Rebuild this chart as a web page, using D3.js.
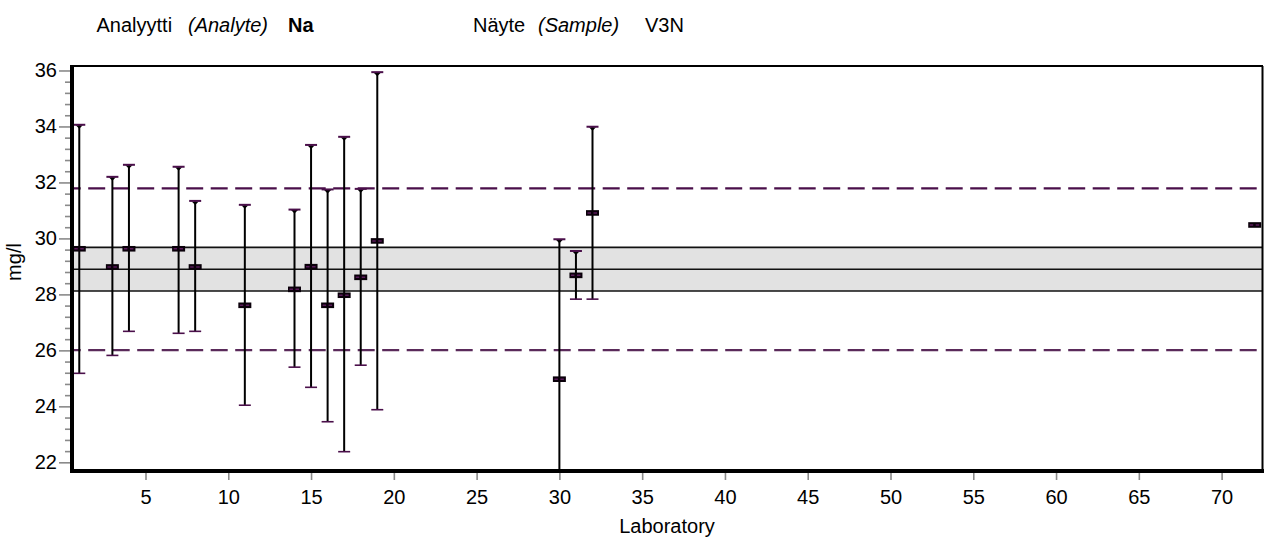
<!DOCTYPE html>
<html>
<head>
<meta charset="utf-8">
<script src="https://cdn.jsdelivr.net/npm/d3@7"></script>
<style>
  html, body { margin: 0; padding: 0; background: #fff; }
  svg { display: block; }
  text { font-family: "Liberation Sans", Arial, sans-serif; fill: #000; }
</style>
</head>
<body>
<svg id="chart" width="1270" height="541"></svg>
<script>
// ---- Data ----
const labs   = [1, 3, 4, 7, 8, 11, 14, 15, 16, 17, 18, 19, 30, 31, 32, 72];
const values = [29.63, 28.98, 29.63, 29.63, 28.98, 27.61, 28.18, 28.99, 27.61, 27.97, 28.61, 29.91, 24.97, 28.68, 30.91, 30.48];
const uppers = [34.06, 32.20, 32.63, 32.56, 31.34, 31.20, 31.03, 33.34, 31.75, 33.63, 31.77, 35.94, 29.97, 29.55, 33.99, null];
const lowers = [25.18, 25.82, 26.68, 26.61, 26.68, 24.04, 25.40, 24.68, 23.45, 22.38, 25.47, 23.88, 20.00, 27.83, 27.83, null];

const assignedValue = 28.9;
const bandLimits  = [28.12, 29.68];
const limitLines  = [26.01, 31.79];

const yTickValues = [22, 24, 26, 28, 30, 32, 34, 36];
const xTickValues = [5, 10, 15, 20, 25, 30, 35, 40, 45, 50, 55, 60, 65, 70];

const headerLeft  = ["Analyytti", "(Analyte)", "Na"];
const headerRight = ["Näyte", "(Sample)", "V3N"];

// ---- Layout ----
const L = 71, R = 1263, T = 66, B = 471;
const svg = d3.select("#chart");

const x = d3.scaleLinear().domain([0.5, 72.5]).range([L, R]);
const y = d3.scaleLinear().domain([21.69, 36.16]).range([B, T]);

const purple = "#4a0f4a";
const FS = "20px";

// clip
svg.append("defs").append("clipPath").attr("id", "plotclip")
  .append("rect").attr("x", L).attr("y", T).attr("width", R - L).attr("height", B - T);

const plot = svg.append("g").attr("clip-path", "url(#plotclip)");

// band
plot.append("rect")
  .attr("x", L).attr("width", R - L)
  .attr("y", y(bandLimits[1])).attr("height", y(bandLimits[0]) - y(bandLimits[1]))
  .attr("fill", "#e2e2e2");
[bandLimits[0], bandLimits[1], assignedValue].forEach(v => {
  plot.append("line").attr("x1", L).attr("x2", R).attr("y1", y(v)).attr("y2", y(v))
    .attr("stroke", "#111").attr("stroke-width", 1.6);
});

// dashed limit lines
limitLines.forEach((v, i) => {
  plot.append("line").attr("x1", L).attr("x2", R).attr("y1", y(v)).attr("y2", y(v))
    .attr("stroke", i === 0 ? "#5a2a5a" : purple).attr("stroke-width", 2.2)
    .attr("stroke-dasharray", "17,7.5").attr("stroke-dashoffset", 7.3);
});

// error bars
const data = labs.map((d, i) => ({lab: d, v: values[i], hi: uppers[i], lo: lowers[i]}));
const bars = plot.selectAll("g.bar").data(data).join("g").attr("class", "bar");

bars.filter(d => d.hi != null).append("line")
  .attr("x1", d => x(d.lab)).attr("x2", d => x(d.lab))
  .attr("y1", d => y(d.hi)).attr("y2", d => y(d.lo))
  .attr("stroke", "#000").attr("stroke-width", 2);

// upper caps
bars.filter(d => d.hi != null).append("path")
  .attr("d", d => { const cx = x(d.lab), cy = y(d.hi);
    return `M${cx - 3.5},${cy + 0.5} L${cx + 3.5},${cy + 0.5} L${cx},${cy + 4} Z`; })
  .attr("fill", "#000");
bars.filter(d => d.hi != null).append("line")
  .attr("x1", d => x(d.lab) - 6).attr("x2", d => x(d.lab) + 6)
  .attr("y1", d => y(d.hi)).attr("y2", d => y(d.hi))
  .attr("stroke", purple).attr("stroke-width", 2);
// lower caps
bars.filter(d => d.lo != null).append("line")
  .attr("x1", d => x(d.lab) - 6).attr("x2", d => x(d.lab) + 6)
  .attr("y1", d => y(d.lo)).attr("y2", d => y(d.lo))
  .attr("stroke", purple).attr("stroke-width", 1.6);

// markers
bars.append("rect")
  .attr("x", d => x(d.lab) - 6.5).attr("y", d => y(d.v) - 2.8)
  .attr("width", 13).attr("height", 5.6).attr("fill", "#0a000a");
bars.append("line")
  .attr("x1", d => x(d.lab) - 5).attr("x2", d => x(d.lab) + 5)
  .attr("y1", d => y(d.v)).attr("y2", d => y(d.v))
  .attr("stroke", "#5a1a5a").attr("stroke-width", 1.5).attr("stroke-dasharray", "3.5,2.5");

// frame (top & right thin)
svg.append("line").attr("x1", L).attr("x2", R).attr("y1", T).attr("y2", T)
  .attr("stroke", "#000").attr("stroke-width", 2);
svg.append("line").attr("x1", R - 0.5).attr("x2", R - 0.5).attr("y1", T).attr("y2", B)
  .attr("stroke", "#000").attr("stroke-width", 2);

// y axis ticks
const yMinor = d3.range(22.4, 36.0, 0.4).filter(v => Math.abs(v / 2 - Math.round(v / 2)) > 0.01);
const yAxisMajor = d3.axisLeft(y).tickValues(yTickValues).tickSize(12).tickPadding(2).tickFormat(d3.format("d"));
const gY = svg.append("g").attr("transform", `translate(${L},0)`).call(yAxisMajor);
gY.select(".domain").remove();
gY.selectAll(".tick line").attr("stroke", "#8a8a8a").attr("stroke-width", 1.6);
gY.selectAll(".tick text").attr("font-size", FS).attr("fill", "#000")
  .attr("font-family", "'Liberation Sans', Arial, sans-serif");
const gYm = svg.append("g").attr("transform", `translate(${L},0)`)
  .call(d3.axisLeft(y).tickValues(yMinor).tickSize(6).tickFormat(""));
gYm.select(".domain").remove();
gYm.selectAll(".tick line").attr("stroke", "#8a8a8a").attr("stroke-width", 1.6);

// x axis ticks
const gX = svg.append("g").attr("transform", `translate(0,${B + 2})`)
  .call(d3.axisBottom(x).tickValues(xTickValues).tickSize(7).tickPadding(10).tickFormat(d3.format("d")));
gX.select(".domain").remove();
gX.selectAll(".tick line").attr("stroke", "#8a8a8a").attr("stroke-width", 1.6);
gX.selectAll(".tick text").attr("font-size", FS).attr("fill", "#000")
  .attr("font-family", "'Liberation Sans', Arial, sans-serif");

// thick left & bottom axes
svg.append("line").attr("x1", L + 1).attr("x2", L + 1).attr("y1", T - 1).attr("y2", B + 2)
  .attr("stroke", "#000").attr("stroke-width", 4);
svg.append("line").attr("x1", L - 1).attr("x2", R + 1).attr("y1", B).attr("y2", B)
  .attr("stroke", "#000").attr("stroke-width", 4);

// axis titles
svg.append("text").attr("x", (L + R) / 2).attr("y", 533).attr("text-anchor", "middle")
  .attr("font-size", FS).text("Laboratory");
svg.append("text").attr("transform", `translate(21,262) rotate(-90)`).attr("text-anchor", "middle")
  .attr("font-size", FS).text("mg/l");

// header
const hdr = svg.append("g").attr("font-size", FS);
hdr.append("text").attr("x", 96.5).attr("y", 32).text(headerLeft[0]);
hdr.append("text").attr("x", 188).attr("y", 32).attr("font-style", "italic").text(headerLeft[1]);
hdr.append("text").attr("x", 288).attr("y", 32).attr("font-weight", "bold").text(headerLeft[2]);
hdr.append("text").attr("x", 473).attr("y", 32).text(headerRight[0]);
hdr.append("text").attr("x", 538).attr("y", 32).attr("font-style", "italic").text(headerRight[1]);
hdr.append("text").attr("x", 645).attr("y", 32).text(headerRight[2]);
</script>
</body>
</html>
